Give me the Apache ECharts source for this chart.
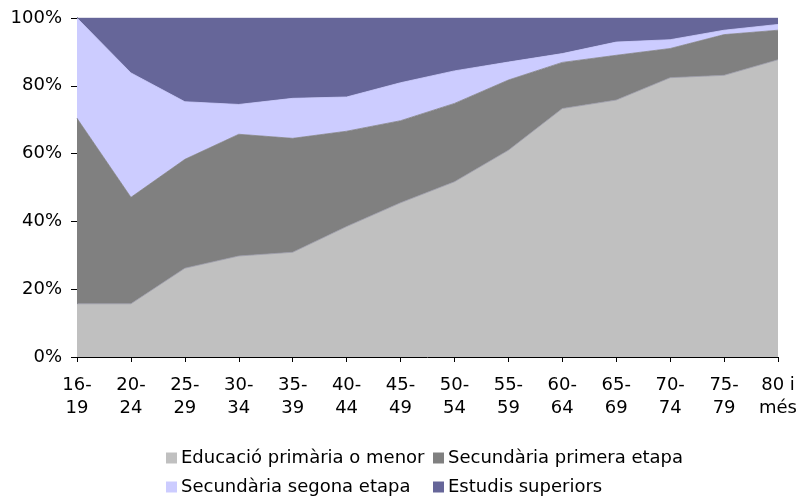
<!DOCTYPE html>
<html>
<head>
<meta charset="utf-8">
<script src="https://cdn.jsdelivr.net/npm/echarts@6/dist/echarts.min.js"></script>
<style>
  html, body { margin: 0; padding: 0; background: #fff; }
  #chart { width: 800px; height: 501px; }
</style>
</head>
<body>
<div id="chart"></div>
<script>
// age groups
var categories = ['16-\n19', '20-\n24', '25-\n29', '30-\n34', '35-\n39', '40-\n44', '45-\n49',
  '50-\n54', '55-\n59', '60-\n64', '65-\n69', '70-\n74', '75-\n79', '80 i\nmés'];

// shares in %
var primaria = [15.7, 15.7, 26.2, 29.8, 30.9, 38.5, 45.5, 51.7, 61.0, 73.3, 75.8, 82.4, 83.1, 87.7];
var secPrimera = [54.7, 31.4, 32.1, 35.9, 33.6, 28.1, 24.2, 23.1, 20.7, 13.6, 13.2, 8.6, 12.0, 8.7];
var secSegona = [29.6, 36.7, 17.0, 8.8, 11.8, 10.1, 11.2, 9.6, 5.3, 2.6, 3.9, 2.6, 1.3, 1.7];
var superiors = [0.0, 16.2, 24.7, 25.5, 23.7, 23.3, 19.1, 15.6, 13.0, 10.5, 7.1, 6.4, 3.6, 1.9];

var names = ['Educació primària o menor', 'Secundària primera etapa', 'Secundària segona etapa', 'Estudis superiors'];
var colors = ['#c0c0c0', '#808080', '#ccccff', '#666699'];
var values = [primaria, secPrimera, secSegona, superiors];

var font = 'DejaVu Sans';
var fs = 18;

var chart = echarts.init(document.getElementById('chart'));

function legendAt(i, left, top) {
  return {
    data: [names[i]],
    left: left,
    top: top,
    itemWidth: 11,
    itemHeight: 11,
    itemGap: 0,
    icon: 'rect',
    padding: 0,
    selectedMode: false,
    textStyle: { fontFamily: font, fontSize: fs, color: '#000', padding: [0, 0, 0, -1] }
  };
}

var series = values.map(function (v, i) {
  return {
    name: names[i],
    type: 'line',
    stack: 'total',
    data: v,
    showSymbol: false,
    symbol: 'none',
    lineStyle: { width: 0.8, color: i === 0 ? '#9a9aa8' : colors[i] },
    itemStyle: { color: colors[i] },
    areaStyle: { color: colors[i], opacity: 1 }
  };
});

chart.setOption({
  animation: false,
  backgroundColor: '#fff',
  color: colors,
  grid: { left: 77, right: 20, top: 18, bottom: 144 },
  legend: [
    legendAt(0, 166, 449),
    legendAt(1, 433, 449),
    legendAt(2, 166, 478),
    legendAt(3, 433, 478)
  ],
  xAxis: {
    type: 'category',
    data: categories,
    boundaryGap: false,
    axisLine: { lineStyle: { color: '#000', width: 1 } },
    axisTick: { show: true, length: 5, lineStyle: { color: '#000' } },
    axisLabel: { fontFamily: font, fontSize: fs, color: '#000', margin: 17, lineHeight: 23, interval: 0 },
    splitLine: { show: false }
  },
  yAxis: {
    type: 'value',
    min: 0,
    max: 100,
    interval: 20,
    axisLine: { show: true, lineStyle: { color: '#000', width: 1 } },
    axisTick: { show: true, length: 6, lineStyle: { color: '#000' } },
    axisLabel: { fontFamily: font, fontSize: fs, color: '#000', margin: 15, formatter: '{value}%' },
    splitLine: { show: false }
  },
  series: series
});
</script>
</body>
</html>
